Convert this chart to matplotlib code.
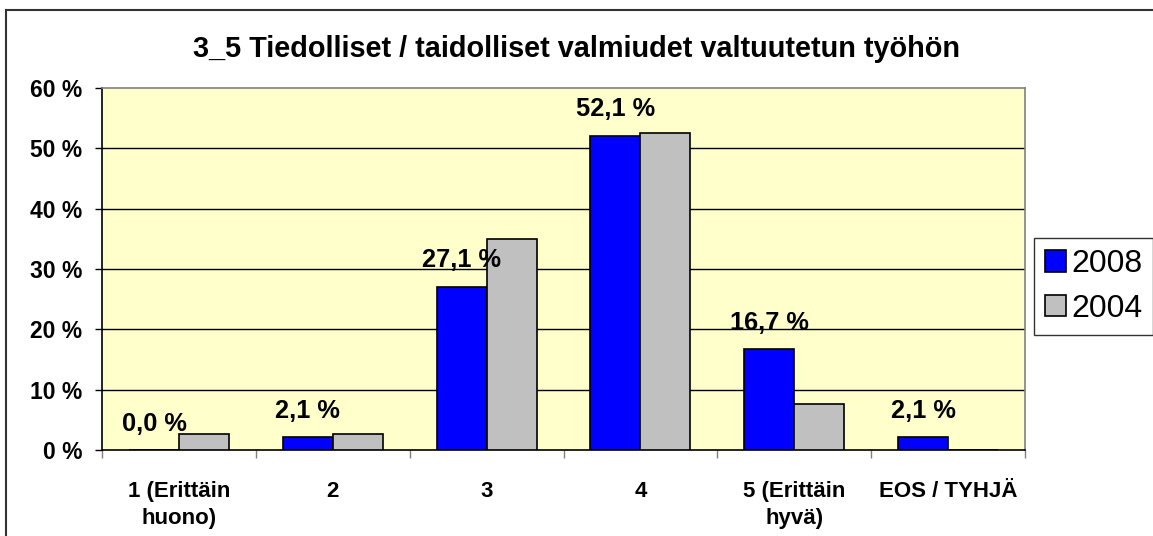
import numpy as np
import matplotlib
matplotlib.use('Agg')
import matplotlib.pyplot as plt
from matplotlib.lines import Line2D

# Data
categories = ['1 (Erittäin\nhuono)', '2', '3', '4', '5 (Erittäin\nhyvä)', 'EOS / TYHJÄ']
values_2008 = [0.0, 2.1, 27.1, 52.1, 16.7, 2.1]
values_2004 = [2.6, 2.6, 35.0, 52.6, 7.6, 0.0]
y_ticks = [0, 10, 20, 30, 40, 50, 60]
title = '3_5 Tiedolliset / taidolliset valmiudet valtuutetun työhön'

plt.rcParams['font.family'] = ['Liberation Sans', 'DejaVu Sans']

fig = plt.figure(figsize=(11.53, 5.36), dpi=100)
ax = fig.add_axes([0.0885, 0.1604, 0.8005, 0.6754])
ax.set_facecolor('#FFFFCC')

x = np.arange(len(categories))
width = 0.325

# Grid lines behind the bars
for t in y_ticks[1:-1]:
    ax.axhline(t, color='black', linewidth=1, zorder=1)

bars_2008 = ax.bar(x - width / 2, values_2008, width, color='#0000FF',
                   edgecolor='black', linewidth=1.2, label='2008', zorder=3)
bars_2004 = ax.bar(x + width / 2, values_2004, width, color='#C0C0C0',
                   edgecolor='black', linewidth=1.2, label='2004', zorder=3)

# Value labels for 2008 only
for bar, v in zip(bars_2008, values_2008):
    ax.annotate(f'{v:.1f} %'.replace('.', ','),
                (bar.get_x() + bar.get_width() / 2, bar.get_height()),
                xytext=(0, 14), textcoords='offset points',
                ha='center', va='baseline', fontsize=18.3, fontweight='bold')

ax.set_xlim(-0.5, len(categories) - 0.5)
ax.set_ylim(0, 60)

ax.set_yticks(y_ticks)
ax.set_yticklabels([f'{t} %' for t in y_ticks], fontsize=16.5, fontweight='bold')
ax.tick_params(axis='y', direction='out', length=5, width=1, pad=9)

ax.set_xticks(x)
ax.set_xticklabels(categories, fontsize=16, fontweight='bold', linespacing=1.4)
ax.set_xticks(np.arange(len(categories) + 1) - 0.5, minor=True)
ax.tick_params(axis='x', which='major', length=0, pad=22)
ax.tick_params(axis='x', which='minor', direction='out', length=6, width=1, color='#808080')

ax.spines['left'].set_color('black')
ax.spines['bottom'].set_color('black')
ax.spines['top'].set_color('#808080')
ax.spines['right'].set_color('#808080')
for s in ax.spines.values():
    s.set_linewidth(1.2)

fig.text(0.5, 0.908, title, ha='center', va='center', fontsize=20.8, fontweight='bold')

leg = ax.legend(loc='upper left', bbox_to_anchor=(0.897, 0.556), bbox_transform=fig.transFigure,
                fontsize=23, frameon=True, fancybox=False, borderpad=0.35,
                handlelength=0.65, handleheight=0.65, handletextpad=0.15,
                labelspacing=0.45, borderaxespad=0)
leg.get_frame().set_edgecolor('black')
leg.get_frame().set_linewidth(1)

# Outer chart border (top and left visible)
fig.add_artist(Line2D([6 / 1153, 1], [1 - 10 / 536, 1 - 10 / 536], color='#333333', linewidth=1.5,
                      transform=fig.transFigure))
fig.add_artist(Line2D([6 / 1153, 6 / 1153], [0, 1 - 10 / 536], color='#333333', linewidth=1.5,
                      transform=fig.transFigure))

plt.savefig('out.png', dpi=100)
plt.close()
